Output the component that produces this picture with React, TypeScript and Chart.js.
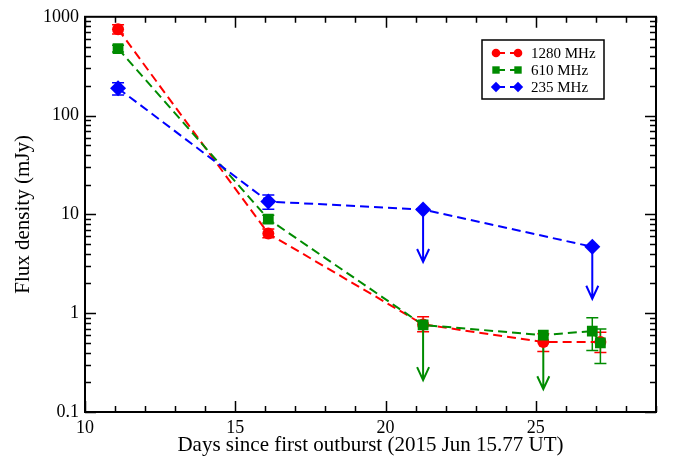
import React, { useEffect, useRef } from 'react';
import { Chart, registerables } from 'chart.js';
Chart.register(...registerables);

const xTickValues = [10, 15, 20, 25];
const xTickLabels = ['10', '15', '20', '25'];
const yTickValues = [0.1, 1, 10, 100, 1000];
const yTickLabels = ['0.1', '1', '10', '100', '1000'];

// 1280 MHz
const days1280 = [11.1, 16.1, 21.25, 25.25, 27.15];
const flux1280 = [750, 6.4, 0.77, 0.51, 0.51];
const lo1280 = [670, 5.8, 0.65, 0.41, 0.4];
const hi1280 = [830, 7.1, 0.92, 0.62, 0.64];
const lim1280 = [null, null, null, null, null];

// 610 MHz
const days610 = [11.1, 16.1, 21.25, 25.25, 26.88, 27.15];
const flux610 = [476, 8.96, 0.76, 0.6, 0.66, 0.5];
const lo610 = [440, 8.2, null, null, 0.42, 0.31];
const hi610 = [515, 9.8, null, null, 0.9, 0.69];
const lim610 = [null, null, 0.21, 0.17, null, null];

// 235 MHz
const days235 = [11.1, 16.1, 21.25, 26.88];
const flux235 = [189, 13.5, 11.2, 4.7];
const lo235 = [162, 11.3, null, null];
const hi235 = [215, 15.7, null, null];
const lim235 = [null, null, 3.3, 1.4];

const RED = '#ff0000';
const GREEN = '#008b00';
const BLUE = '#0000ff';
const SERIF = "'Liberation Serif', 'Times New Roman', serif";

const seriesInfo = [
  { label: '1280 MHz', color: RED, style: 'circle', days: days1280, flux: flux1280, lo: lo1280, hi: hi1280, lim: lim1280 },
  { label: '610 MHz', color: GREEN, style: 'rect', days: days610, flux: flux610, lo: lo610, hi: hi610, lim: lim610 },
  { label: '235 MHz', color: BLUE, style: 'rectRot', days: days235, flux: flux235, lo: lo235, hi: hi235, lim: lim235 },
];

function drawMarker(ctx: CanvasRenderingContext2D, style: string, x: number, y: number, s: number, color: string) {
  ctx.save();
  ctx.fillStyle = color;
  ctx.beginPath();
  if (style === 'circle') {
    ctx.arc(x, y, s, 0, Math.PI * 2);
  } else if (style === 'rect') {
    ctx.rect(x - s, y - s, 2 * s, 2 * s);
  } else {
    ctx.moveTo(x - s, y);
    ctx.lineTo(x, y - s);
    ctx.lineTo(x + s, y);
    ctx.lineTo(x, y + s);
    ctx.closePath();
  }
  ctx.fill();
  ctx.restore();
}

const extrasPlugin = {
  id: 'extras',
  beforeDatasetsDraw(chart: any) {
    const ctx = chart.ctx as CanvasRenderingContext2D;
    const xs = chart.scales.x;
    const ys = chart.scales.y;
    ctx.save();
    seriesInfo.forEach((s) => {
      ctx.strokeStyle = s.color;
      s.days.forEach((d, i) => {
        const px = xs.getPixelForValue(d);
        const py = ys.getPixelForValue(s.flux[i]);
        const lo = s.lo[i];
        const hi = s.hi[i];
        if (lo != null && hi != null) {
          const pl = ys.getPixelForValue(lo);
          const ph = ys.getPixelForValue(hi);
          ctx.lineWidth = 1.5;
          ctx.setLineDash([]);
          ctx.beginPath();
          ctx.moveTo(px, pl);
          ctx.lineTo(px, ph);
          ctx.moveTo(px - 6, pl);
          ctx.lineTo(px + 6, pl);
          ctx.moveTo(px - 6, ph);
          ctx.lineTo(px + 6, ph);
          ctx.stroke();
        }
        const lim = s.lim[i];
        if (lim != null) {
          const pt = ys.getPixelForValue(lim);
          ctx.lineWidth = 2;
          ctx.setLineDash([]);
          ctx.beginPath();
          ctx.moveTo(px, py);
          ctx.lineTo(px, pt);
          ctx.moveTo(px - 6, pt - 13);
          ctx.lineTo(px, pt);
          ctx.lineTo(px + 6, pt - 13);
          ctx.stroke();
        }
      });
    });
    ctx.restore();
  },
  afterDraw(chart: any) {
    const ctx = chart.ctx as CanvasRenderingContext2D;
    const { left, right, top, bottom } = chart.chartArea;
    const xs = chart.scales.x;
    const ys = chart.scales.y;
    ctx.save();
    ctx.strokeStyle = '#000';
    ctx.setLineDash([]);
    // ticks
    ctx.lineWidth = 1.5;
    ctx.beginPath();
    for (let v = 10; v <= 29; v++) {
      const px = Math.round(xs.getPixelForValue(v)) + 0.5;
      const len = v % 5 === 0 ? 11 : 6;
      ctx.moveTo(px, bottom);
      ctx.lineTo(px, bottom - len);
      ctx.moveTo(px, top);
      ctx.lineTo(px, top + len);
    }
    for (let e = -1; e <= 2; e++) {
      for (let m = 1; m <= 9; m++) {
        const v = m * Math.pow(10, e);
        const py = Math.round(ys.getPixelForValue(v)) + 0.5;
        const len = m === 1 ? 11 : 6;
        ctx.moveTo(left, py);
        ctx.lineTo(left + len, py);
        ctx.moveTo(right, py);
        ctx.lineTo(right - len, py);
      }
    }
    ctx.stroke();
    // frame
    ctx.lineWidth = 2;
    ctx.strokeRect(left, top, right - left, bottom - top);

    // legend
    const bx = 482, by = 40, bw = 122, bh = 59;
    ctx.fillStyle = '#fff';
    ctx.fillRect(bx, by, bw, bh);
    ctx.lineWidth = 1.5;
    ctx.strokeStyle = '#000';
    ctx.strokeRect(bx, by, bw, bh);
    const rows = [53, 70, 87];
    const sizes = [4.3, 3.7, 5.2];
    seriesInfo.forEach((s, i) => {
      const y = rows[i];
      ctx.strokeStyle = s.color;
      ctx.lineWidth = 2;
      ctx.setLineDash([9, 5]);
      ctx.beginPath();
      ctx.moveTo(496, y);
      ctx.lineTo(518, y);
      ctx.stroke();
      ctx.setLineDash([]);
      drawMarker(ctx, s.style, 496, y, sizes[i], s.color);
      drawMarker(ctx, s.style, 518, y, sizes[i], s.color);
      ctx.fillStyle = '#000';
      ctx.font = `15px ${SERIF}`;
      ctx.textBaseline = 'middle';
      ctx.textAlign = 'left';
      ctx.fillText(s.label, 531, y + 1);
    });
    ctx.restore();
  },
};

export default function App() {
  const ref = useRef<HTMLCanvasElement>(null);
  useEffect(() => {
    document.body.style.margin = '0';
    const canvas = ref.current!;
    const mk = (xs: number[], ys: number[]) => xs.map((x, i) => ({ x, y: ys[i] }));
    const chart = new Chart(canvas, {
      type: 'line',
      data: {
        datasets: [
          {
            label: '1280 MHz', data: mk(days1280, flux1280), borderColor: RED, backgroundColor: RED,
            borderDash: [9, 5], borderWidth: 2, pointStyle: 'circle', pointRadius: 6, pointBorderWidth: 0,
            pointBackgroundColor: RED, order: 3, tension: 0,
          },
          {
            label: '610 MHz', data: mk(days610, flux610), borderColor: GREEN, backgroundColor: GREEN,
            borderDash: [9, 5], borderWidth: 2, pointStyle: 'rect', pointRadius: 7.6, pointBorderWidth: 0,
            pointBackgroundColor: GREEN, order: 2, tension: 0,
          },
          {
            label: '235 MHz', data: mk(days235, flux235), borderColor: BLUE, backgroundColor: BLUE,
            borderDash: [9, 5], borderWidth: 2, pointStyle: 'rectRot', pointRadius: 8, pointBorderWidth: 0,
            pointBackgroundColor: BLUE, order: 1, tension: 0,
          },
        ] as any,
      },
      options: {
        responsive: false,
        animation: false,
        devicePixelRatio: 1,
        layout: { padding: { left: 0, top: 14, right: 17, bottom: 0 } },
        plugins: { legend: { display: false }, tooltip: { enabled: false } },
        scales: {
          x: {
            type: 'linear', min: 10, max: 29,
            grid: { display: false, drawTicks: false },
            border: { display: false },
            afterBuildTicks: (s: any) => { s.ticks = xTickValues.map((v) => ({ value: v })); },
            afterFit: (s: any) => { s.height = 44; },
            ticks: {
              padding: 5, color: '#000', font: { family: SERIF, size: 18 }, maxRotation: 0, autoSkip: false,
              callback: (v: any) => { const i = xTickValues.indexOf(Number(v)); return i >= 0 ? xTickLabels[i] : ''; },
            },
            title: {
              display: true, text: 'Days since first outburst (2015 Jun 15.77 UT)', color: '#000',
              font: { family: SERIF, size: 21, lineHeight: 1 }, padding: { top: 0, bottom: 0 },
            },
          },
          y: {
            type: 'logarithmic', min: 0.1, max: 1000,
            grid: { display: false, drawTicks: false },
            border: { display: false },
            afterBuildTicks: (s: any) => { s.ticks = yTickValues.map((v) => ({ value: v })); },
            afterFit: (s: any) => { s.width = 85; },
            ticks: {
              padding: 6, color: '#000', font: { family: SERIF, size: 18 }, autoSkip: false,
              callback: (v: any) => { const i = yTickValues.indexOf(Number(v)); return i >= 0 ? yTickLabels[i] : ''; },
            },
            title: {
              display: true, text: 'Flux density (mJy)', color: '#000',
              font: { family: SERIF, size: 21 }, padding: { top: 11, bottom: 0 },
            },
          },
        },
      } as any,
      plugins: [extrasPlugin],
    });
    return () => chart.destroy();
  }, []);
  return (
    <div style={{ width: 673, height: 456 }}>
      <canvas ref={ref} width={673} height={456} style={{ display: 'block' }} />
    </div>
  );
}
